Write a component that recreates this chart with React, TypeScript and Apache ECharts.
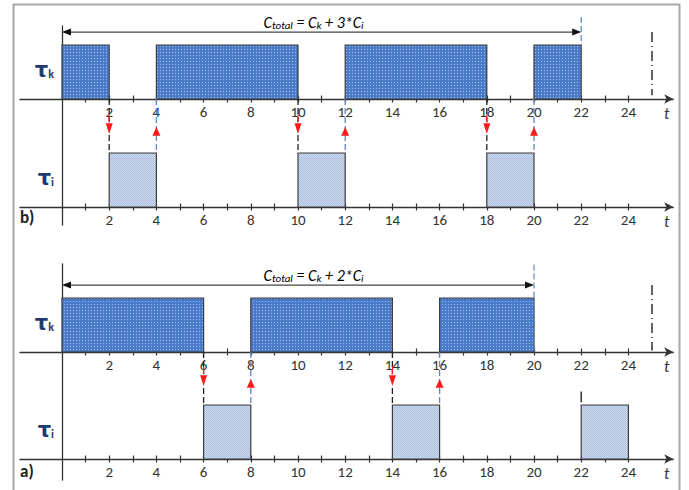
import React, { useEffect, useRef } from "react";
import * as echarts from "echarts";

// ---- data ----
const tauKB: number[][] = [[0, 2], [4, 10], [12, 18], [20, 22]];
const tauIB: number[][] = [[2, 4], [10, 12], [18, 20]];
const tauKA: number[][] = [[0, 6], [8, 14], [16, 20]];
const tauIA: number[][] = [[6, 8], [14, 16], [22, 24]];
const preemptB = [2, 10, 18];
const resumeB = [4, 12, 20];
const preemptA = [6, 14];
const resumeA = [8, 16];
const cTotalB = 22;
const cTotalA = 20;
const periodMark = 25;
const nextStartA = 22;
const tickValues = [1, 2, 3, 4, 5, 6, 7, 8, 9, 10, 11, 12, 13, 14, 15, 16, 17, 18, 19, 20, 21, 22, 23, 24];
const tickLabels = [2, 4, 6, 8, 10, 12, 14, 16, 18, 20, 22, 24];
const formulaB = "3";
const formulaA = "2";

// ---- layout ----
const X0 = 62;
const U = 23.6;
const X_MIN = -1.78;
const X_MAX = 25.9;
const B = 54;
const GRID_LEFT = X0 + X_MIN * U;
const GRID_W = (X_MAX - X_MIN) * U;
const panels = [
  { top: 26, axis: 99, bottom: 99 },
  { top: 99, axis: 207, bottom: 225 },
  { top: 264, axis: 352, bottom: 352 },
  { top: 352, axis: 459, bottom: 480 },
];

const FONT = "Carlito, 'Liberation Sans Narrow', Roboto, sans-serif";
const AXIS_COLOR = "#333";

function makeTile(bg: string, dot: string, size: number, dots: number[][]) {
  const c = document.createElement("canvas");
  c.width = size;
  c.height = size;
  const ctx = c.getContext("2d")!;
  ctx.fillStyle = bg;
  ctx.fillRect(0, 0, size, size);
  ctx.fillStyle = dot;
  dots.forEach(([x, y]) => ctx.fillRect(x, y, 1, 1));
  return c;
}

export default function App() {
  const ref = useRef<HTMLDivElement>(null);
  useEffect(() => {
    if (!ref.current) return;
    const chart = echarts.init(ref.current, undefined, { renderer: "svg" });

    const kTile = makeTile("#4a7bca", "#a9c2ec", 3, [[1, 1]]);
    const iTile = makeTile("#d2ddef", "#a7bbdd", 2, [[0, 0], [1, 1]]);
    const kFill: any = { image: kTile, repeat: "repeat", imageWidth: 3, imageHeight: 3 };
    const iFill: any = { image: iTile, repeat: "repeat", imageWidth: 2, imageHeight: 2 };

    const grids = panels.map((p) => ({
      left: GRID_LEFT,
      width: GRID_W,
      top: p.top,
      height: p.bottom - p.top,
      containLabel: false,
      outerBoundsMode: "none",
    }));

    const xAxes: any[] = [];
    const yAxes: any[] = [];
    panels.forEach((p, i) => {
      const yMin = -(p.bottom - p.axis) / B;
      const yMax = (p.axis - p.top) / B;
      const xOffset = -(p.bottom - p.axis);
      const isK = i % 2 === 0;
      xAxes.push({
        type: "value",
        gridIndex: i,
        min: X_MIN,
        max: X_MAX,
        position: "bottom",
        offset: xOffset,
        axisLine: {
          show: true,
          onZero: false,
          symbol: ["none", "arrow"],
          symbolSize: [7, 9],
          lineStyle: { color: AXIS_COLOR, width: 1.3 },
        },
        axisTick: {
          show: true,
          customValues: tickValues,
          length: 3.5,
          lineStyle: { color: AXIS_COLOR, width: 1.2 },
        },
        axisLabel: {
          show: true,
          customValues: tickLabels,
          margin: 5,
          fontSize: 15,
          color: "#333",
          fontFamily: FONT,
        },
        splitLine: { show: false },
        name: "t",
        nameLocation: "end",
        nameGap: -4,
        nameTextStyle: {
          fontStyle: "italic",
          fontSize: 16,
          color: "#333",
          fontFamily: FONT,
          align: "right",
          verticalAlign: "top",
          padding: [6, 0, 0, 0],
        },
      });
      xAxes.push({
        type: "value",
        gridIndex: i,
        min: X_MIN,
        max: X_MAX,
        position: "bottom",
        offset: xOffset,
        axisLine: { show: false, onZero: false },
        axisTick: {
          show: true,
          inside: true,
          customValues: tickValues,
          length: 3.5,
          lineStyle: { color: AXIS_COLOR, width: 1.2 },
        },
        axisLabel: { show: false },
        splitLine: { show: false },
      });
      yAxes.push({
        type: "value",
        gridIndex: i,
        min: yMin,
        max: yMax,
        position: "left",
        offset: -(X0 - GRID_LEFT),
        axisLine: { show: true, onZero: false, lineStyle: { color: AXIS_COLOR, width: 1.3 } },
        axisTick: { show: false },
        splitLine: { show: false },
        axisLabel: {
          show: true,
          customValues: [0.54],
          margin: 8,
          formatter: () => (isK ? "{t|τ}{s|k}" : "{t|τ}{s|i}"),
          rich: {
            t: { fontSize: 21, fontWeight: "bold", color: "#1f3a6e", fontFamily: "'DejaVu Sans', sans-serif" },
            s: { fontSize: 12, fontWeight: "bold", color: "#1f3a6e", fontFamily: FONT, padding: [8, 0, 0, 0] },
          },
        },
      });
    });

    const barSeries = (gi: number, data: number[][], fill: any) => ({
      type: "custom",
      xAxisIndex: gi * 2,
      yAxisIndex: gi,
      data,
      renderItem: (_p: any, api: any) => {
        const a = api.coord([api.value(0), 1]);
        const b = api.coord([api.value(1), 0]);
        return {
          type: "rect",
          shape: { x: a[0], y: a[1], width: b[0] - a[0], height: b[1] - a[1] },
          style: { fill, stroke: "#3c3c3c", lineWidth: 1.2 },
        };
      },
    });

    // connectors between tau_k axis (top of tau_i panel) and tau_i bar top
    const connSeries = (gi: number, data: number[], down: boolean) => {
      const p = panels[gi];
      const yTop = (p.axis - p.top) / B;
      return {
        type: "custom",
        xAxisIndex: gi * 2,
        yAxisIndex: gi,
        data,
        renderItem: (_p: any, api: any) => {
          const x = api.value(0);
          const top = api.coord([x, yTop]);
          const bot = api.coord([x, 1]);
          const children: any[] = [
            {
              type: "line",
              shape: { x1: top[0], y1: top[1], x2: bot[0], y2: bot[1] },
              style: {
                stroke: down ? "#222" : "#5b87c5",
                lineWidth: 1.3,
                lineDash: [6, 3],
              },
            },
          ];
          if (down) {
            const tip = api.coord([x, 1.35]);
            const base = api.coord([x, 1.55]);
            children.push({
              type: "line",
              shape: { x1: tip[0], y1: base[1] - 9, x2: tip[0], y2: base[1] },
              style: { stroke: "#ff2020", lineWidth: 1.2 },
            });
            children.push({
              type: "rect",
              shape: { x: tip[0] - 3, y: base[1] - 1, width: 6, height: tip[1] - base[1] + 1 },
              style: { fill: "#fff" },
            });
            children.push({
              type: "polygon",
              shape: { points: [[tip[0] - 3.5, base[1]], [tip[0] + 3.5, base[1]], [tip[0], tip[1]]] },
              style: { fill: "#ff1a1a" },
            });
          } else {
            const tip = api.coord([x, 1.48]);
            const base = api.coord([x, 1.32]);
            children.push({
              type: "polygon",
              shape: { points: [[tip[0] - 4, base[1]], [tip[0] + 4, base[1]], [tip[0], tip[1]]] },
              style: { fill: "#ff1a1a" },
            });
          }
          return { type: "group", children };
        },
      };
    };

    // C_total span arrow with formula
    const spanSeries = (gi: number, end: number, mult: string) => ({
      type: "custom",
      xAxisIndex: gi * 2,
      yAxisIndex: gi,
      data: [[0, end]],
      renderItem: (_p: any, api: any) => {
        const a = api.coord([api.value(0), 1.24]);
        const b = api.coord([api.value(1), 1.24]);
        const y = a[1];
        return {
          type: "group",
          children: [
            {
              type: "line",
              shape: { x1: a[0] + 2, y1: y, x2: b[0] - 2, y2: y },
              style: { stroke: "#444", lineWidth: 1.3 },
            },
            {
              type: "polygon",
              shape: { points: [[a[0], y], [a[0] + 9, y - 3.5], [a[0] + 9, y + 3.5]] },
              style: { fill: "#111" },
            },
            {
              type: "polygon",
              shape: { points: [[b[0], y], [b[0] - 9, y - 3.5], [b[0] - 9, y + 3.5]] },
              style: { fill: "#111" },
            },
            {
              type: "text",
              x: X0 + 11 * U - 8,
              y: y - 10,
              style: {
                text: "{c|C}{s|total}{c| = C}{s|k}{c| + " + mult + "*C}{s|i}",
                align: "center",
                verticalAlign: "middle",
                rich: {
                  c: { fontSize: 16, fontStyle: "italic", fontFamily: FONT, color: "#111" },
                  s: { fontSize: 11, fontStyle: "italic", fontFamily: FONT, color: "#111", padding: [7, 0, 0, 0] },
                },
              },
            },
          ],
        };
      },
    });

    // vertical marker lines: [x, yFrom, yTo, kind]
    const markSeries = (gi: number, data: any[]) => ({
      type: "custom",
      xAxisIndex: gi * 2,
      yAxisIndex: gi,
      data,
      renderItem: (_p: any, api: any) => {
        const x = api.value(0);
        const a = api.coord([x, api.value(1)]);
        const b = api.coord([x, api.value(2)]);
        const kind = api.value(3);
        const style: any =
          kind === 0
            ? { stroke: "#5b87c5", lineWidth: 1.2, lineDash: [6, 3] }
            : kind === 1
            ? { stroke: "#222", lineWidth: 1.4, lineDash: [10, 4, 1, 4] }
            : { stroke: "#222", lineWidth: 1.4 };
        return { type: "line", shape: { x1: a[0], y1: a[1], x2: b[0], y2: b[1] }, style };
      },
    });

    chart.setOption({
      animation: false,
      backgroundColor: "#fff",
      grid: grids,
      xAxis: xAxes,
      yAxis: yAxes,
      graphic: [
        {
          type: "rect",
          shape: { x: 13.5, y: 4.5, width: 666, height: 500 },
          style: { fill: "none", stroke: "#a9a9a9", lineWidth: 2 },
          silent: true,
        },
        {
          type: "text",
          left: 20,
          top: 209,
          style: { text: "b)", fontSize: 17, fontWeight: "bold", fontFamily: FONT, fill: "#222" },
        },
        {
          type: "text",
          left: 20,
          top: 463,
          style: { text: "a)", fontSize: 17, fontWeight: "bold", fontFamily: FONT, fill: "#222" },
        },
      ],
      series: [
        barSeries(0, tauKB, kFill),
        barSeries(1, tauIB, iFill),
        barSeries(2, tauKA, kFill),
        barSeries(3, tauIA, iFill),
        connSeries(1, preemptB, true),
        connSeries(1, resumeB, false),
        connSeries(3, preemptA, true),
        connSeries(3, resumeA, false),
        spanSeries(0, cTotalB, formulaB),
        spanSeries(2, cTotalA, formulaA),
        markSeries(0, [
          [cTotalB, 1.52, 1.0, 0],
          [periodMark, 1.24, 0.07, 1],
        ]),
        markSeries(2, [
          [cTotalA, 1.62, 0, 0],
          [periodMark, 1.24, 0.03, 1],
        ]),
        markSeries(3, [[nextStartA, 1.25, 1.05, 2]]),
      ],
    });
    return () => chart.dispose();
  }, []);
  return (
    <div
      ref={ref}
      style={{ position: "fixed", left: 0, top: 0, width: 689, height: 490 }}
    />
  );
}
